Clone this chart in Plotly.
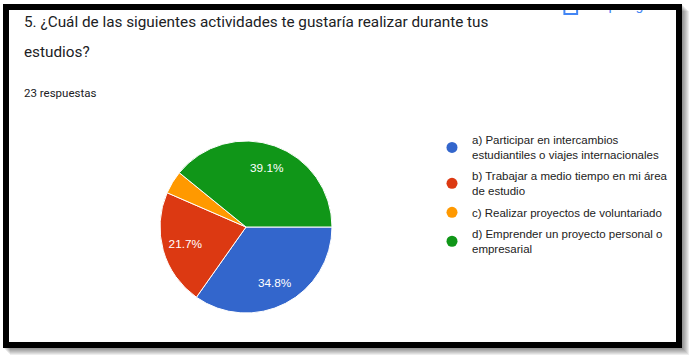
import plotly.graph_objects as go

W, H = 695, 361

# ---- data ----
labels = [
    "a) Participar en intercambios<br>estudiantiles o viajes internacionales",
    "b) Trabajar a medio tiempo en mi área<br>de estudio",
    "c) Realizar proyectos de voluntariado",
    "d) Emprender un proyecto personal o<br>empresarial",
]
counts = [8, 5, 1, 9]
colors = ["#3366cc", "#dc3912", "#ff9900", "#109618"]
title_lines = ["5. ¿Cuál de las siguientes actividades te gustaría realizar durante tus",
               "estudios?"]
subtitle = "23 respuestas"


def px(x):
    return x / W


def py(y):
    return 1 - y / H


fig = go.Figure()

total = sum(counts)
templates = ["%{percent:.1%}" if c / total >= 0.05 else "" for c in counts]
pie_domain = dict(x=[px(160), px(332)], y=[py(313), py(141)])

# filled slices
fig.add_trace(go.Pie(
    labels=labels, values=counts, sort=False, direction="clockwise", rotation=90,
    marker=dict(colors=colors, line=dict(color="white", width=1)),
    textinfo="none", domain=pie_domain, showlegend=False, hoverinfo="label+percent",
))
# transparent ring carrying the percentage labels further out, like Google Charts
fig.add_trace(go.Pie(
    labels=labels, values=counts, sort=False, direction="clockwise", rotation=90,
    hole=0.46,
    marker=dict(colors=["rgba(0,0,0,0)"] * len(counts), line=dict(width=0)),
    texttemplate=templates, textposition="inside", insidetextorientation="horizontal",
    textfont=dict(family="Arial", size=11.8, color="white"),
    domain=pie_domain, showlegend=False, hoverinfo="skip",
))

# legend entries with circle markers
for lab, col in zip(labels, colors):
    fig.add_trace(go.Scatter(
        x=[None], y=[None], mode="markers", name=lab, legendgroup=lab,
        marker=dict(symbol="circle", size=11, color=col),
        xaxis="x", yaxis="y",
    ))

# "Copiar gráfico" partially hidden under the frame (clipped by axis area)
fig.add_trace(go.Scatter(
    x=[648], y=[6], mode="text", text=["Copiar gráfico"], showlegend=False,
    textfont=dict(family="Roboto", size=14, color="#4285f4"), cliponaxis=True,
    hoverinfo="skip",
))

shapes = []
# drop shadow
for k in range(1, 8):
    shapes.append(dict(type="rect", xref="paper", yref="paper",
                       x0=px(3 + k), x1=px(682 + k), y0=py(348 + k), y1=py(4 + k),
                       line=dict(width=0), fillcolor="rgba(0,0,0,0.07)", layer="below"))
shapes.append(dict(type="rect", xref="paper", yref="paper",
                   x0=px(3), x1=px(682), y0=py(348), y1=py(4),
                   line=dict(width=0), fillcolor="white", layer="below"))
# copy icon (clipped)
shapes.append(dict(type="rect", xref="x", yref="y", x0=576, x1=589, y0=3, y1=14,
                   line=dict(color="#4285f4", width=2), layer="above"))
# black frame
shapes.append(dict(type="rect", xref="paper", yref="paper",
                   x0=px(6), x1=px(679), y0=py(345), y1=py(7),
                   line=dict(color="black", width=6), fillcolor="rgba(0,0,0,0)", layer="above"))

annotations = [
    dict(text=title_lines[0], x=px(22), y=py(22), xref="paper", yref="paper",
         xanchor="left", yanchor="middle", showarrow=False,
         font=dict(family="Roboto", size=15.3, color="#202124")),
    dict(text=title_lines[1], x=px(22), y=py(52), xref="paper", yref="paper",
         xanchor="left", yanchor="middle", showarrow=False,
         font=dict(family="Roboto", size=15.3, color="#202124")),
    dict(text=subtitle, x=px(22), y=py(93), xref="paper", yref="paper",
         xanchor="left", yanchor="middle", showarrow=False,
         font=dict(family="Roboto", size=11.5, color="#202124")),
]

fig.update_layout(
    width=W, height=H, margin=dict(l=0, r=0, t=0, b=0),
    paper_bgcolor="white", plot_bgcolor="rgba(0,0,0,0)",
    xaxis=dict(visible=False, range=[0, W], domain=[0, px(681)], fixedrange=True),
    yaxis=dict(visible=False, range=[H, 5], domain=[0, py(5)], fixedrange=True),
    shapes=shapes, annotations=annotations,
    legend=dict(x=px(432), y=py(126), xanchor="left", yanchor="top",
                font=dict(family="Arial", size=11.5, color="#222222"),
                bgcolor="rgba(0,0,0,0)", tracegroupgap=3, itemclick=False),
    showlegend=True,
)

fig.write_html("out.html", config={"displayModeBar": False},
               post_script="document.body.style.margin='0';")
